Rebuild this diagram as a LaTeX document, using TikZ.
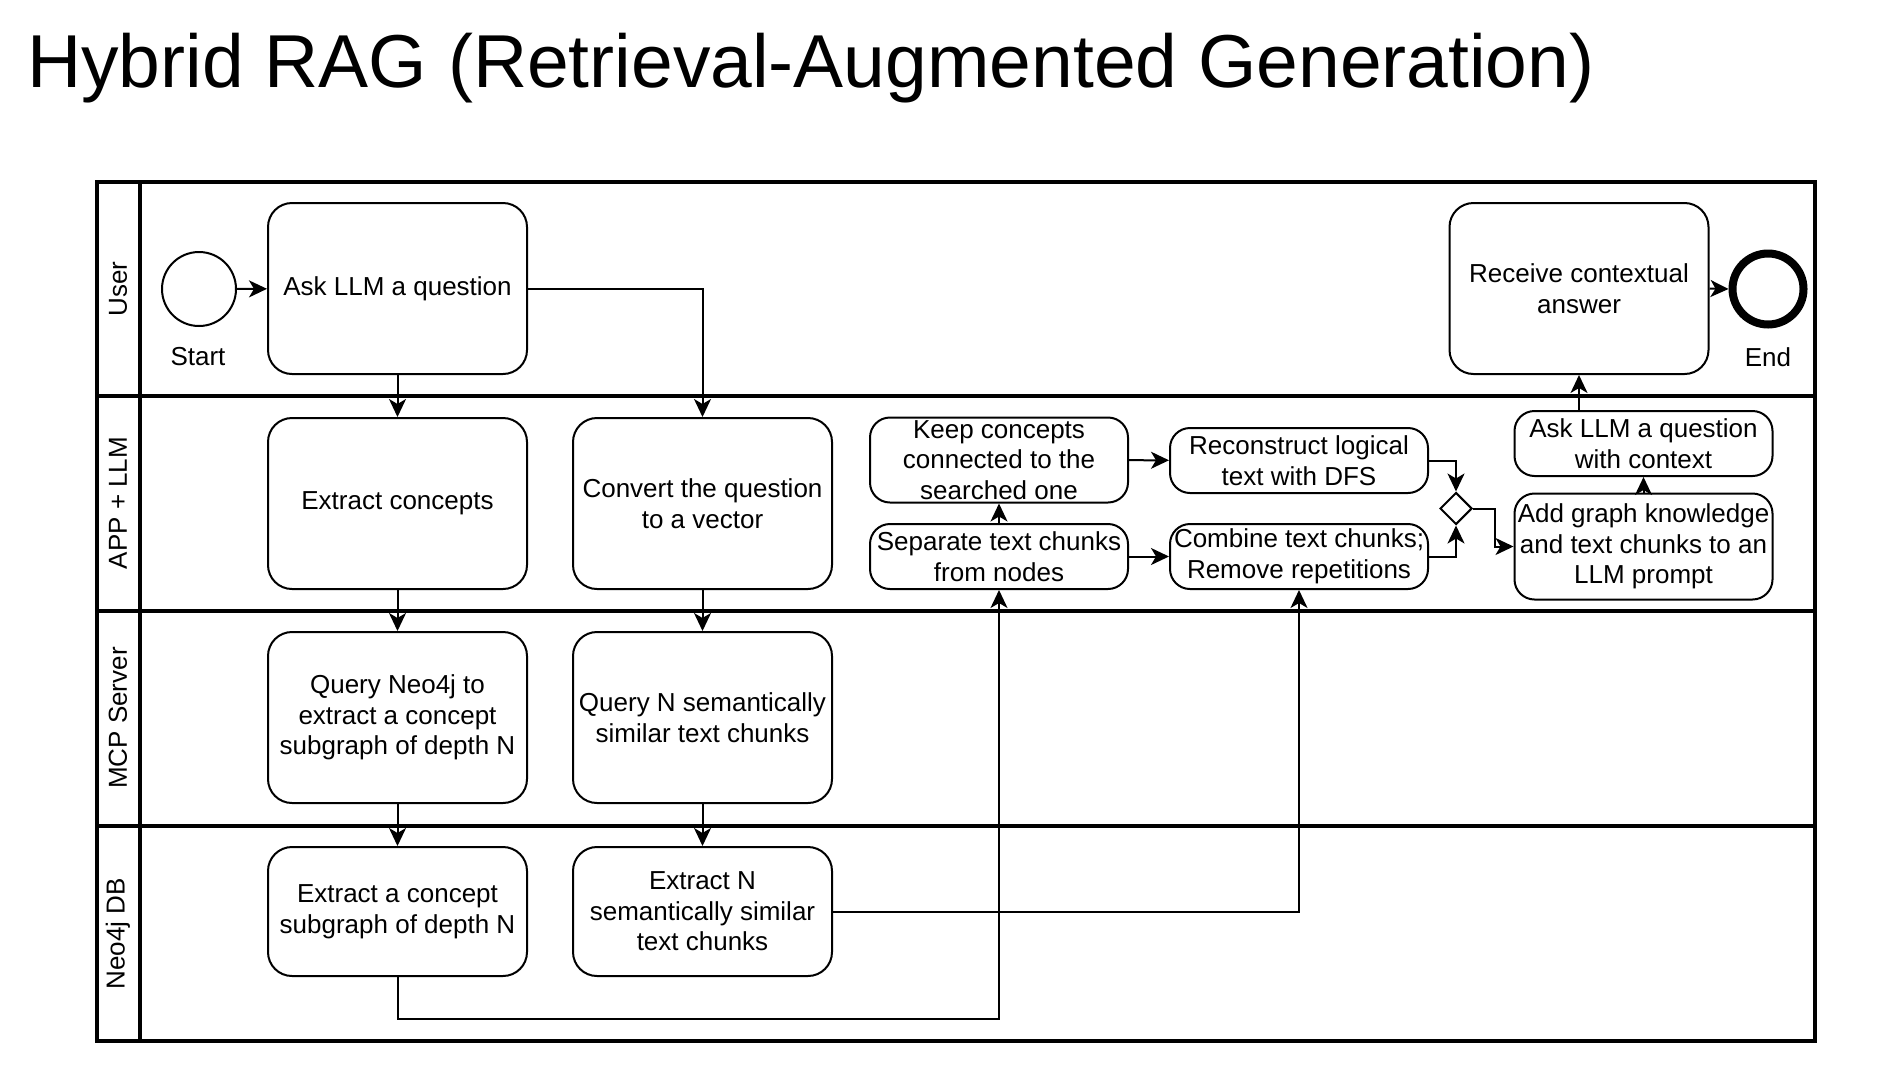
\documentclass[tikz,border=0pt]{standalone}
\usepackage{fontspec}
\setmainfont{Liberation Sans}
\usetikzlibrary{arrows.meta,shapes.geometric}
\begin{document}
\begin{tikzpicture}[x=1pt,y=-1pt,
  box/.style={draw,line width=2pt,rounded corners=24pt,align=center,inner sep=2pt,
    font=\fontsize{26}{30.5}\selectfont},
  bigbox/.style={box,minimum width=259pt,minimum height=171pt},
  smallbox/.style={box,rounded corners=20pt,minimum width=258pt},
  lanelabel/.style={rotate=90,font=\fontsize{26}{30}\selectfont},
  lbl/.style={font=\fontsize{26}{30}\selectfont},
  conn/.style={line width=2pt,-{Stealth[length=18pt,width=17pt,inset=5pt]}},
  pool/.style={line width=4pt}]
\useasboundingbox (0,0) rectangle (1894,1074);
\fill[white] (0,0) rectangle (1894,1074);

% title
\node[anchor=base west,inner sep=0pt,font=\fontsize{75}{80}\selectfont] (title) at (27,87) {Hybrid RAG (Retrieval-Augmented Generation)};

% pool and lanes
\draw[pool] (97,182) rectangle (1815,1041);
\draw[pool] (140,182) -- (140,1041);
\draw[pool] (97,396) -- (1815,396);
\draw[pool] (97,611) -- (1815,611);
\draw[pool] (97,826) -- (1815,826);
\node[lanelabel] (lu) at (118,289) {User};
\node[lanelabel] (la) at (118,503) {APP + LLM};
\node[lanelabel] (lm) at (118,718) {MCP Server};
\node[lanelabel] (ln) at (118,934) {Neo4j DB};

% user lane
\node[draw,circle,line width=2pt,minimum size=74pt,inner sep=0pt] (start) at (199,289) {};
\node[lbl] (startl) at (198,357) {Start};
\node[bigbox] (ask) at (397.5,288.5) {\raisebox{-3pt}{Ask LLM a question}};
\node[bigbox] (recv) at (1579,288.5) {Receive contextual\\answer};
\node[draw,circle,line width=8pt,minimum size=71pt,inner sep=0pt] (end) at (1768,289) {};
\node[lbl] (endl) at (1768,357) {End};

% app lane
\node[bigbox] (extc) at (397.5,503.5) {\raisebox{-3pt}{Extract concepts}};
\node[bigbox] (conv) at (702.5,503.5) {Convert the question\\to a vector};
\node[smallbox,minimum height=85pt] (keep) at (999,460) {Keep concepts\\connected to the\\searched one};
\node[smallbox,minimum height=65pt] (sep) at (999,556.5) {Separate text chunks\\from nodes};
\node[smallbox,minimum height=65pt] (recon) at (1299,460.5) {Reconstruct logical\\text with DFS};
\node[smallbox,minimum height=65pt] (comb) at (1299,556.5) {Combine text chunks;\\Remove repetitions};
\node[draw,diamond,line width=2pt,minimum width=32pt,minimum height=32pt,inner sep=0pt] (dia) at (1456,508.5) {};
\node[smallbox,minimum height=65pt] (askc) at (1643.5,443.5) {Ask LLM a question\\with context};
\node[smallbox,minimum height=106pt] (add) at (1643.5,546.5) {Add graph knowledge\\and text chunks to an\\LLM prompt};

% mcp lane
\node[bigbox] (qneo) at (397.5,717.5) {Query Neo4j to\\extract a concept\\subgraph of depth N};
\node[bigbox] (qn) at (702.5,717.5) {Query N semantically\\similar text chunks};

% neo4j lane
\node[bigbox,minimum height=129pt] (exsub) at (397.5,911.5) {Extract a concept\\subgraph of depth N};
\node[bigbox,minimum height=129pt] (exn) at (702.5,911.5) {Extract N\\semantically similar\\text chunks};

% connectors
\draw[conn] (start) -- (ask);
\draw[conn] (ask) -- (extc);
\draw[conn] (ask.east) -| (conv.north);
\draw[conn] (extc) -- (qneo);
\draw[conn] (qneo) -- (exsub);
\draw[conn] (conv) -- (qn);
\draw[conn] (qn) -- (exn);
\draw[conn] (exsub.south) -- ++(0,42) -| (sep.south);
\draw[conn] (exn.east) -| (comb.south);
\draw[conn] (sep) -- (keep);
\draw[conn] (keep) -- (recon);
\draw[conn] (sep) -- (comb);
\draw[conn] (recon.east) -| (dia.north);
\draw[conn] (comb.east) -| (dia.south);
\draw[conn] (dia.east) -- ++(22,0) |- (add.west);
\draw[conn] (add) -- (askc);
\draw[conn] (recv.south |- askc.north) -- (recv.south);
\draw[conn] (recv.east) -- (end.west);
\end{tikzpicture}
\end{document}
